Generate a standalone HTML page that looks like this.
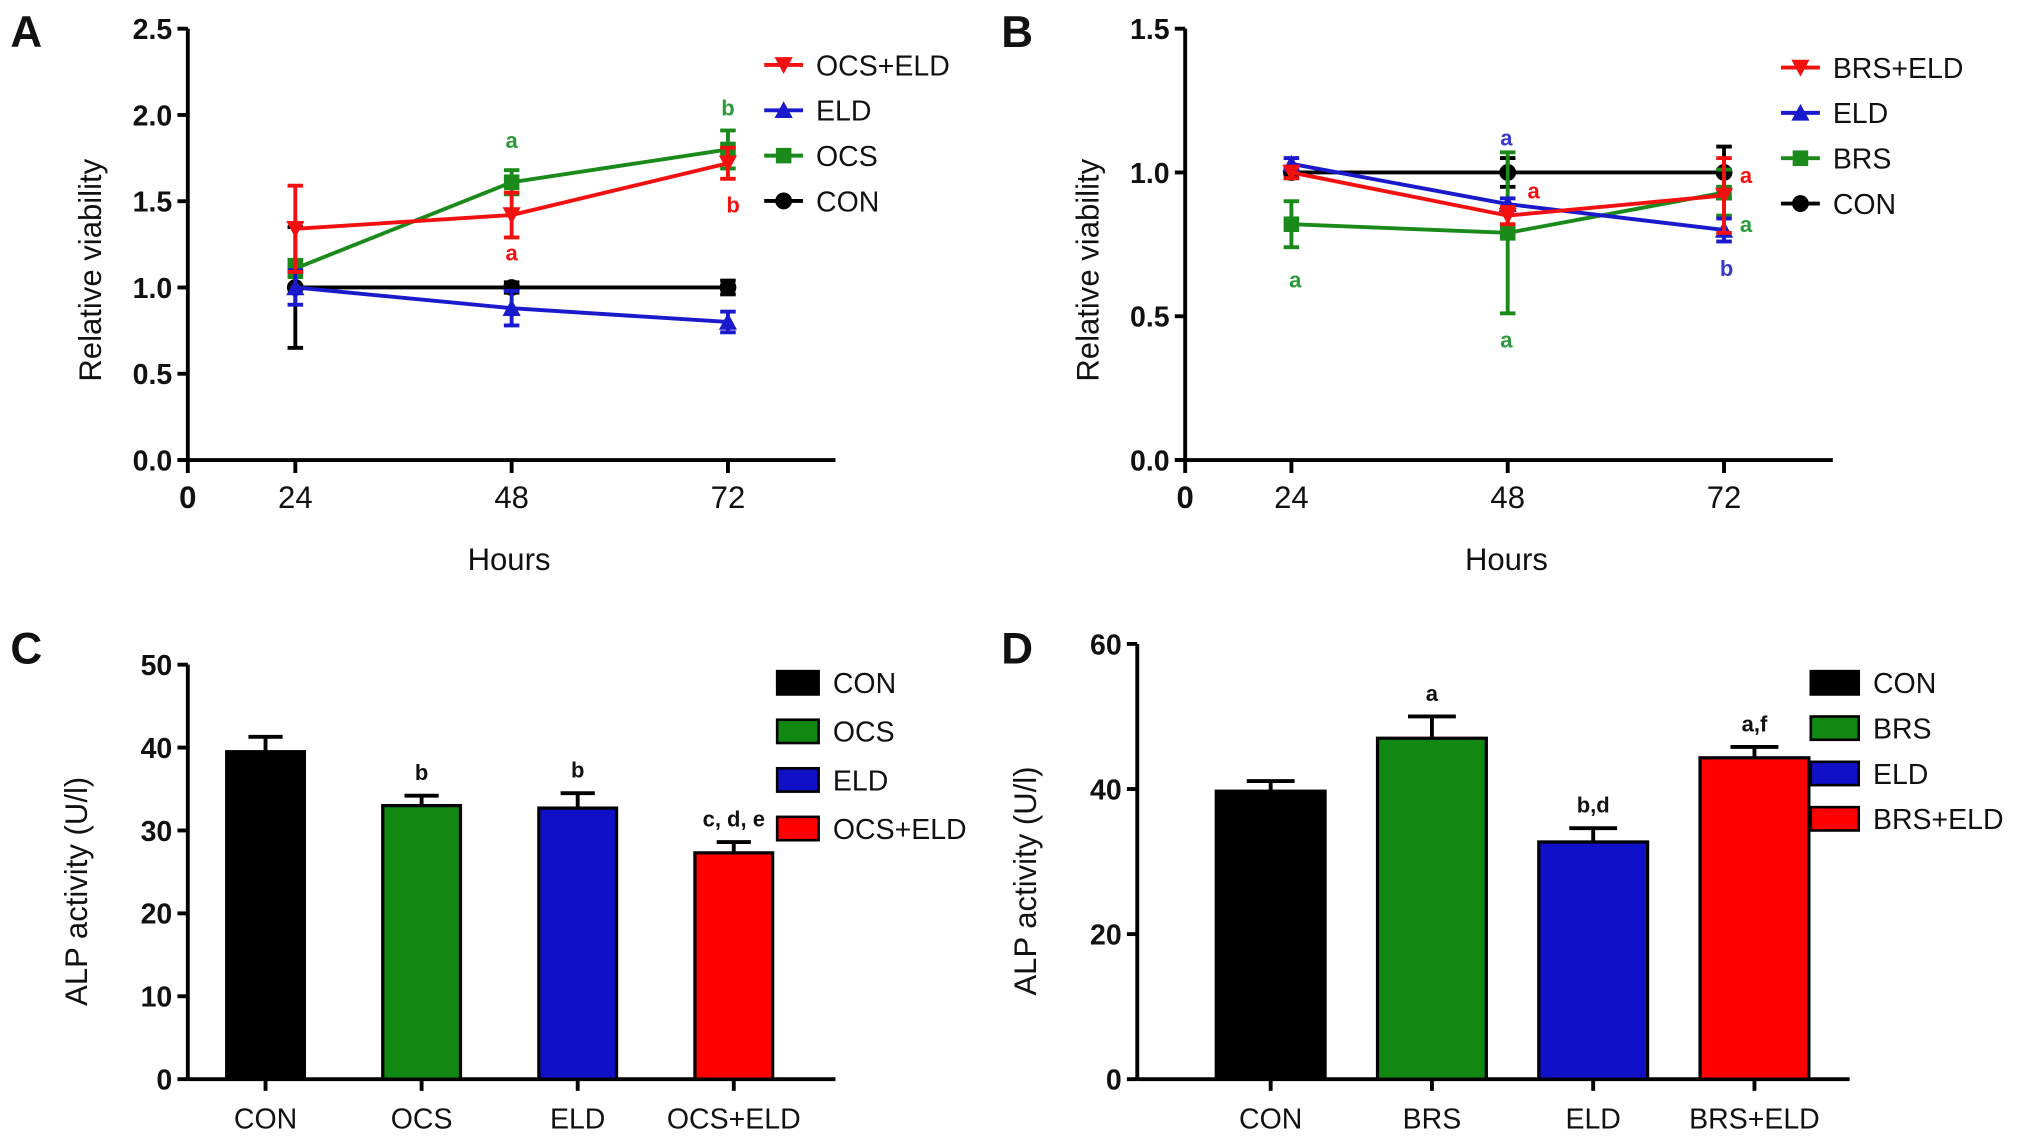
<!DOCTYPE html>
<html><head><meta charset="utf-8"><style>
html,body{margin:0;padding:0;background:#fff;width:2031px;height:1148px;overflow:hidden}
svg text{font-family:"Liberation Sans",Arial,sans-serif}
.tick{font-size:22px;font-weight:bold;fill:#111}
.cat{font-size:22px;fill:#111}
.leg{font-size:22px;fill:#111}
.ttl{font-size:24px;fill:#111}
.pl{font-size:34px;font-weight:bold;fill:#111}
.sig{font-size:17px;font-weight:bold}
</style></head><body>
<svg id="fig" width="2031" height="1148" viewBox="0 0 1568 886" xmlns="http://www.w3.org/2000/svg"></svg>
<script>
// Panel A data
const hoursA = [24, 48, 72];
const aNames = ["OCS+ELD", "ELD", "OCS", "CON"];
const aOcsEld = [1.34, 1.42, 1.72];
const aOcsEldErr = [0.25, 0.13, 0.09];
const aEld = [1.0, 0.88, 0.8];
const aEldErr = [0.1, 0.1, 0.06];
const aOcs = [1.11, 1.61, 1.8];
const aOcsErr = [0.05, 0.07, 0.11];
const aCon = [1.0, 1.0, 1.0];
const aConErr = [0.35, 0.03, 0.04];
const aTicks = ["0.0", "0.5", "1.0", "1.5", "2.0", "2.5"];
// Panel B data
const hoursB = [24, 48, 72];
const bNames = ["BRS+ELD", "ELD", "BRS", "CON"];
const bBrsEld = [1.0, 0.85, 0.92];
const bBrsEldErr = [0.02, 0.03, 0.13];
const bEld = [1.03, 0.89, 0.8];
const bEldErr = [0.02, 0.02, 0.04];
const bBrs = [0.82, 0.79, 0.93];
const bBrsErr = [0.08, 0.28, 0.08];
const bCon = [1.0, 1.0, 1.0];
const bConErr = [0.02, 0.05, 0.09];
const bTicks = ["0.0", "0.5", "1.0", "1.5"];
// Panel C data
const cCats = ["CON", "OCS", "ELD", "OCS+ELD"];
const cVals = [39.5, 33.0, 32.7, 27.3];
const cErr = [1.8, 1.2, 1.8, 1.3];
const cSig = ["", "b", "b", "c, d, e"];
const cTicks = [0, 10, 20, 30, 40, 50];
// Panel D data
const dCats = ["CON", "BRS", "ELD", "BRS+ELD"];
const dVals = [39.7, 47.0, 32.7, 44.3];
const dErr = [1.4, 3.0, 1.9, 1.5];
const dSig = ["", "a", "b,d", "a,f"];
const dTicks = [0, 20, 40, 60];

const colors = {red:"#f21010", blue:"#1a1acc", green:"#1a8a1a", black:"#000"};
const svg = document.getElementById('fig');
const NS = "http://www.w3.org/2000/svg";
function el(tag, attrs, parent, txt){
  const e = document.createElementNS(NS, tag);
  for (const k in attrs) e.setAttribute(k, attrs[k]);
  if (txt !== undefined) e.textContent = txt;
  (parent || svg).appendChild(e);
  return e;
}
function grp(name){
  const g = el('g', {});
  
  
  return g;
}
function marker(g, type, x, y, c){
  if (type === 'down') el('polygon', {points:`${x-7},${y-6} ${x+7},${y-6} ${x},${y+7}`, fill:c}, g);
  else if (type === 'up') el('polygon', {points:`${x-7},${y+6} ${x+7},${y+6} ${x},${y-7}`, fill:c}, g);
  else if (type === 'sq') el('rect', {x:x-6, y:y-6, width:12, height:12, fill:c}, g);
  else el('circle', {cx:x, cy:y, r:6.5, fill:c}, g);
}

function lineChart(cfg){
  const g = grp(cfg.name);
  const {x0, x1, yTop, yBot, ymax, xsc} = cfg;
  const ys = v => yBot - (v / ymax) * (yBot - yTop);
  const xs = h => cfg.x24 + (h - 24) * xsc;
  // axes
  const ya = el('line', {x1:x0, y1:yTop, x2:x0, y2:yBot, stroke:'#000', 'stroke-width':3}, g);
   
  const xa = el('line', {x1:x0-8, y1:yBot, x2:x1, y2:yBot, stroke:'#000', 'stroke-width':3}, g);
   
  el('line', {x1:x0, y1:yBot, x2:x0, y2:yBot+10, stroke:'#000', 'stroke-width':3}, g);
  cfg.ticks.forEach(t => {
    const y = ys(parseFloat(t));
    el('line', {x1:x0-8, y1:y, x2:x0, y2:y, stroke:'#000', 'stroke-width':3}, g);
    const tl = el('text', {x:x0-12, y:y+8, 'text-anchor':'end', class:'tick'}, g, t);
     
  });
  const z = el('text', {x:x0, y:yBot+37, 'text-anchor':'middle', class:'tick', style:'font-size:24px'}, g, '0');
   
  cfg.hours.forEach(h => {
    el('line', {x1:xs(h), y1:yBot, x2:xs(h), y2:yBot+10, stroke:'#000', 'stroke-width':3}, g);
    const tl = el('text', {x:xs(h), y:yBot+37, 'text-anchor':'middle', class:'cat', style:'font-size:24px'}, g, String(h));
     
  });
  const xt = el('text', {x:(x0+x1)/2-2, y:yBot+85, 'text-anchor':'middle', class:'ttl'}, g, 'Hours');
   
  const yt = el('text', {x:0, y:0, 'text-anchor':'middle', class:'ttl', transform:`translate(${x0-67},${(yTop+yBot)/2+20}) rotate(-90)`}, g, 'Relative viability');
   
  // series drawn in reverse so black on top
  cfg.series.slice().reverse().forEach(s => {
    const sg = el('g', {}, g);
    
    
    const pts = s.vals.map((v, i) => `${xs(cfg.hours[i])},${ys(v)}`).join(' ');
    el('polyline', {points:pts, fill:'none', stroke:s.c, 'stroke-width':3}, sg);
    s.vals.forEach((v, i) => {
      const x = xs(cfg.hours[i]), e = s.err[i];
      el('line', {x1:x, y1:ys(v+e), x2:x, y2:ys(v-e), stroke:s.c, 'stroke-width':3}, sg);
      el('line', {x1:x-6, y1:ys(v+e), x2:x+6, y2:ys(v+e), stroke:s.c, 'stroke-width':3}, sg);
      el('line', {x1:x-6, y1:ys(v-e), x2:x+6, y2:ys(v-e), stroke:s.c, 'stroke-width':3}, sg);
      marker(sg, s.m, x, ys(v), s.c);
    });
  });
  // legend
  cfg.series.forEach((s, i) => {
    const lg = el('g', {}, g);
    
    
    const y = cfg.legY + i * cfg.legDy;
    el('line', {x1:cfg.legX-15, y1:y, x2:cfg.legX+15, y2:y, stroke:s.c, 'stroke-width':3}, lg);
    marker(lg, s.m, cfg.legX, y, s.c);
    el('text', {x:cfg.legX+25, y:y+8, class:'leg'}, lg, s.label);
  });
  cfg.sig.forEach(s => {
    const t = el('text', {x:s[0], y:s[1], 'text-anchor':'middle', class:'sig', fill:s[3]}, g, s[2]);
     
  });
}

lineChart({name:'panel-a-chart', x0:145, x1:645, yTop:22, yBot:355, ymax:2.5, x24:228, xsc:(562-228)/48,
  hours:hoursA, ticks:aTicks, legX:605, legY:50, legDy:35,
  series:[
    {label:aNames[0], vals:aOcsEld, err:aOcsEldErr, c:colors.red, m:'down'},
    {label:aNames[1], vals:aEld, err:aEldErr, c:colors.blue, m:'up'},
    {label:aNames[2], vals:aOcs, err:aOcsErr, c:colors.green, m:'sq'},
    {label:aNames[3], vals:aCon, err:aConErr, c:colors.black, m:'dot'}],
  sig:[[395,114,'a','#2a9a3a'],[562,89,'b','#2a9a3a'],[566,164,'b',colors.red],[395,201,'a',colors.red]]});

lineChart({name:'panel-b-chart', x0:915, x1:1415, yTop:22, yBot:355, ymax:1.5, x24:997, xsc:(1331-997)/48,
  hours:hoursB, ticks:bTicks, legX:1390, legY:52, legDy:35,
  series:[
    {label:bNames[0], vals:bBrsEld, err:bBrsEldErr, c:colors.red, m:'down'},
    {label:bNames[1], vals:bEld, err:bEldErr, c:colors.blue, m:'up'},
    {label:bNames[2], vals:bBrs, err:bBrsErr, c:colors.green, m:'sq'},
    {label:bNames[3], vals:bCon, err:bConErr, c:colors.black, m:'dot'}],
  sig:[[1163,112,'a','#3a3acc'],[1184,153,'a',colors.red],[1348,141,'a',colors.red],[1348,179,'a','#2a9a3a'],
       [1333,213,'b','#3a3acc'],[1000,222,'a','#2a9a3a'],[1163,268,'a','#2a9a3a']]});

function barChart(cfg){
  const g = grp(cfg.name);
  const {x0, x1, yTop, yBot, ymax, cx0, dx, bw} = cfg;
  const ys = v => yBot - (v / ymax) * (yBot - yTop);
  const xs = i => cx0 + i * dx;
  const barColors = ['#000', '#118811', '#1010c8', '#ff0000'];
  const ya = el('line', {x1:x0, y1:yTop, x2:x0, y2:yBot, stroke:'#000', 'stroke-width':3}, g);
   
  const xa = el('line', {x1:x0, y1:yBot, x2:x1, y2:yBot, stroke:'#000', 'stroke-width':3}, g);
   
  cfg.ticks.forEach(t => {
    const y = ys(t);
    el('line', {x1:x0-8, y1:y, x2:x0, y2:y, stroke:'#000', 'stroke-width':3}, g);
    const tl = el('text', {x:x0-12, y:y+8, 'text-anchor':'end', class:'tick'}, g, String(t));
     
  });
  const yt = el('text', {x:0, y:0, 'text-anchor':'middle', class:'ttl', transform:`translate(${x0-78},${(yTop+yBot)/2+15}) rotate(-90)`}, g, 'ALP activity (U/l)');
   
  cfg.cats.forEach((c, i) => {
    const x = xs(i), v = cfg.vals[i], e = cfg.err[i];
    el('line', {x1:x, y1:yBot, x2:x, y2:yBot+9, stroke:'#000', 'stroke-width':3}, g);
    el('line', {x1:x, y1:ys(v), x2:x, y2:ys(v+e), stroke:'#000', 'stroke-width':3}, g);
    el('line', {x1:x-bw*0.22, y1:ys(v+e), x2:x+bw*0.22, y2:ys(v+e), stroke:'#000', 'stroke-width':3}, g);
    const b = el('rect', {x:x-bw/2, y:ys(v), width:bw, height:yBot-ys(v), fill:barColors[i], stroke:'#000', 'stroke-width':2.5}, g);
    
    
    const cl = el('text', {x:x, y:yBot+38, 'text-anchor':'middle', class:'cat'}, g, c);
     
    if (cfg.sig[i]) {
      const s = el('text', {x:x, y:ys(v+e)-12, 'text-anchor':'middle', class:'sig', fill:'#111'}, g, cfg.sig[i]);
       
    }
  });
  cfg.cats.forEach((c, i) => {
    const lg = el('g', {}, g);
    
    
    const y = cfg.legY + i * cfg.legDy;
    el('rect', {x:cfg.legX, y:y-9, width:cfg.legW, height:18, fill:barColors[i], stroke:'#000', 'stroke-width':2}, lg);
    el('text', {x:cfg.legX+cfg.legW+11, y:y+8, class:'leg'}, lg, c);
  });
}

barChart({name:'panel-c-chart', x0:145, x1:645, yTop:513, yBot:833, ymax:50, cx0:205, dx:120.5, bw:60,
  cats:cCats, vals:cVals, err:cErr, sig:cSig, ticks:cTicks, legX:600, legY:527, legDy:37.5, legW:32});
barChart({name:'panel-d-chart', x0:878, x1:1428, yTop:497, yBot:833, ymax:60, cx0:981, dx:124.5, bw:84,
  cats:dCats, vals:dVals, err:dErr, sig:dSig, ticks:dTicks, legX:1398, legY:527, legDy:35, legW:37});

[['A',8,36],['B',773,36],['C',8,512],['D',773,512]].forEach(p => {
  const t = el('text', {x:p[1], y:p[2], class:'pl'}, svg, p[0]);
  
  
});
</script>
</body></html>
